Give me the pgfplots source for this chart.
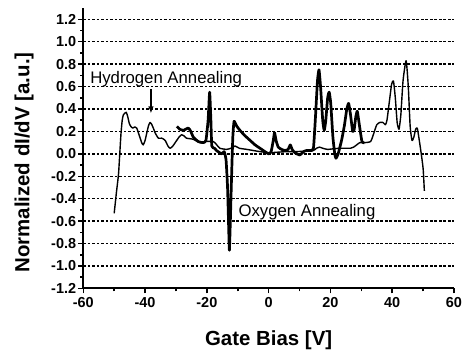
\documentclass[border=0pt]{standalone}
\usepackage{pgfplots}
\pgfplotsset{compat=1.18}
\usepackage{fontspec}
\setmainfont{Liberation Sans}
\usetikzlibrary{arrows.meta}
\begin{document}
\begin{tikzpicture}
\begin{axis}[
  name=ax,
  scale only axis,
  width=370.7bp, height=280.3bp,
  xmin=-60, xmax=60, ymin=-1.2, ymax=1.3,
  axis x line=bottom, axis y line=left,
  axis line style={line width=1.9bp, -},
  xtick={-60,-40,-20,0,20,40,60},
  minor xtick={-50,-30,-10,10,30,50},
  ytick={-1.2,-1.0,-0.8,-0.6,-0.4,-0.2,0,0.2,0.4,0.6,0.8,1.0,1.2},
  minor ytick={-1.1,-0.9,-0.7,-0.5,-0.3,-0.1,0.1,0.3,0.5,0.7,0.9,1.1},
  tick align=outside,
  major tick length=5bp, minor tick length=3bp,
  every tick/.style={line width=1.5bp, black},
  ymajorgrids,
  major grid style={line width=1.4bp, black, dash pattern=on 2.7bp off 1.8bp},
  ticklabel style={font=\bfseries\fontsize{14.5}{16}\selectfont},
  xticklabel style={inner sep=1bp, yshift=-3bp},
  yticklabel style={inner sep=1bp, xshift=-1bp},
  /pgf/number format/assume math mode=true,
  yticklabel style={/pgf/number format/.cd, fixed, fixed zerofill, precision=1},
  xlabel={Gate Bias [V]},
  ylabel={Normalized dI/dV [a.u.]},
  label style={font=\bfseries\fontsize{20.5}{24}\selectfont},
  xlabel style={at={(axis description cs:0.5,-0.205)}, anchor=base},
  ylabel style={at={(axis description cs:-0.16,0.449)}, anchor=center},
  clip=false,
]
% Hydrogen annealing (thin)
\addplot[black, line width=1.4bp, line join=round, smooth, tension=0.35] coordinates {
(-50.0,-0.53) (-49.3,-0.35) (-48.6,-0.18) (-48.2,0.0) (-47.8,0.18) (-47.4,0.30)
(-47.0,0.35) (-46.1,0.37) (-45.6,0.33) (-45.1,0.27) (-44.5,0.24) (-44.0,0.23)
(-43.3,0.24) (-42.7,0.23) (-42.2,0.19) (-41.7,0.15) (-41.1,0.10) (-40.6,0.08)
(-40.0,0.12) (-39.5,0.18) (-38.9,0.25) (-38.4,0.28) (-37.8,0.26) (-37.2,0.22)
(-36.8,0.19) (-35.7,0.14) (-34.6,0.14) (-33.5,0.12) (-32.6,0.07) (-31.9,0.05)
(-31.0,0.07) (-30.0,0.11) (-29.0,0.15) (-28.2,0.17) (-27.4,0.16) (-26.6,0.14)
(-24.4,0.13) (-22.2,0.10) (-20.6,0.11) (-17.9,0.11) (-16.8,0.08) (-15.8,0.05)
(-13.6,0.04) (-12.2,0.05) (-10.9,0.07) (-9.5,0.05) (-7.1,0.04) (-5,0.03)
(-2.8,0.02) (0,0.01) (3,0.015) (6,0.02) (9,0.02) (12,0.025) (14.5,0.03)
(15.5,0.05) (16.5,0.06) (17.5,0.05) (19,0.04) (21,0.045) (23,0.05) (25,0.05)
(26.5,0.05) (27.5,0.06) (28.5,0.08) (29.5,0.10) (31,0.10) (33,0.11) (34,0.18)
(35,0.26) (36,0.28) (37,0.28) (37.8,0.26) (38.3,0.3) (39,0.45) (39.8,0.62)
(40.4,0.65) (41,0.5) (41.6,0.28) (42.2,0.22) (42.8,0.35) (43.5,0.65) (44.5,0.83)
(45.2,0.6) (45.8,0.25) (46.4,0.12) (47.0,0.15) (47.6,0.22) (48.1,0.23) (48.6,0.15)
(49.3,0.02) (50.0,-0.13) (50.4,-0.33)
};
% Oxygen annealing (thick)
\addplot[black, line width=2.7bp, line join=round, smooth, tension=0.3] coordinates {
(-29.7,0.245) (-28.8,0.22) (-27.6,0.21) (-26.0,0.23) (-25.2,0.2) (-24.4,0.15)
(-22.8,0.11) (-21.2,0.10) (-20.3,0.12) (-19.6,0.3) (-19.1,0.55) (-18.7,0.3)
(-18.4,0.07) (-17.5,0.05) (-16.9,0.03) (-15.2,0.0) (-14.4,0.02) (-13.8,-0.05)
(-13.3,-0.3) (-12.9,-0.7) (-12.7,-0.86) (-12.4,-0.6) (-12.0,-0.2) (-11.6,0.15)
(-11.2,0.29) (-10.4,0.25) (-9.3,0.21) (-7.6,0.16) (-6.0,0.12) (-4.4,0.08)
(-2.8,0.05) (-1.2,0.02) (0.0,0.0) (0.8,0.02) (1.5,0.12) (1.9,0.19) (2.4,0.12)
(3.1,0.06) (4.2,0.04) (5.3,0.03) (6.3,0.04) (7.0,0.08) (7.6,0.04) (8.5,0.01)
(10.1,-0.01) (11.3,0.02) (12.3,0.03) (13.5,0.03) (14.5,0.05) (15.2,0.35)
(15.8,0.65) (16.3,0.75) (16.8,0.6) (17.5,0.3) (18.0,0.21) (18.5,0.3) (19.1,0.5)
(19.6,0.55) (20.1,0.45) (20.8,0.15) (21.4,0.0) (21.8,-0.04) (22.5,0.0)
(23.6,0.12) (24.5,0.25) (25.3,0.4) (25.9,0.45) (26.5,0.35) (27.2,0.2)
(27.7,0.22) (28.2,0.33) (28.7,0.38) (29.3,0.27) (30.2,0.11) (31,0.1)
};
\node[anchor=base west, inner sep=0, font=\fontsize{16.8}{19}\selectfont] at (axis cs:-57.8,0.63) {Hydrogen Annealing};
\node[anchor=base west, inner sep=0, font=\fontsize{16.8}{19}\selectfont] at (axis cs:-9.8,-0.56) {Oxygen Annealing};
\draw[-{Latex[length=7bp,width=5.5bp]}, line width=1.9bp] (axis cs:-38.1,0.58) -- (axis cs:-38.1,0.36);
\end{axis}
\pgfresetboundingbox
\path[use as bounding box] ([xshift=-83.3bp,yshift=-60.7bp]ax.south west) rectangle ([xshift=12bp,yshift=8.1bp]ax.north east);
\end{tikzpicture}
\end{document}
